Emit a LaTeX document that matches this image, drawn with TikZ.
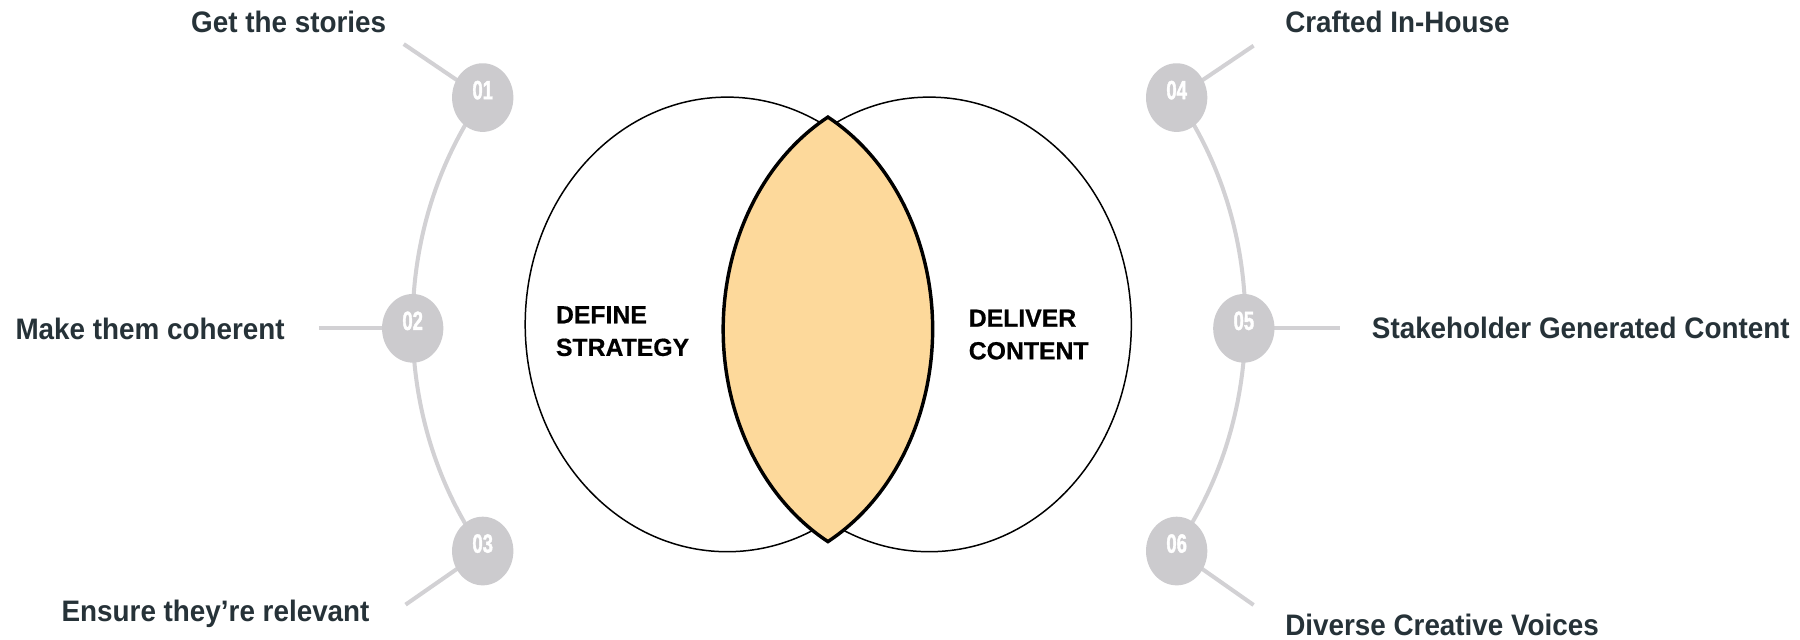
\documentclass[tikz,border=0pt]{standalone}
\usepackage{fontspec}
\setmainfont{Liberation Sans}
\newfontfamily\labfont[FakeStretch=0.94]{Liberation Sans}
\newfontfamily\numfont[FakeStretch=0.7,FakeBold=1.5]{Liberation Sans}
\newfontfamily\vennfont[FakeBold=0.6]{Liberation Sans}
\usetikzlibrary{shapes.geometric}
\definecolor{ink}{HTML}{263238}
\definecolor{spoke}{HTML}{D2D1D4}
\definecolor{dot}{HTML}{CCCBCE}
\definecolor{lensfill}{HTML}{FDD99B}
\begin{document}
\begin{tikzpicture}[x=1pt,y=-1pt,
  lab/.style={font=\labfont\bfseries\fontsize{25.8}{30}\selectfont, text=ink, inner sep=0pt},
  venntxt/.style={font=\vennfont\bfseries\fontsize{21.6}{28.4}\selectfont, text=black, align=left, inner sep=0pt, anchor=west},
  dotnode/.style={ellipse, fill=dot, minimum width=53.4pt, minimum height=59.8pt, inner sep=0pt},
  numtxt/.style={font=\numfont\bfseries\fontsize{23}{24}\selectfont, text=white, inner sep=0pt},
  spokeline/.style={draw=spoke, line width=3.5pt},
  vennell/.style={ellipse, draw=black, line width=1.3pt, fill=white, minimum width=352pt, minimum height=396pt, inner sep=0pt},
]
\useasboundingbox (0,0) rectangle (1568,557);
\fill[white] (0,0) rectangle (1568,557);

% circle centres and spoke ends
\coordinate (c01) at (420.5,85);
\coordinate (c02) at (359.5,286);
\coordinate (c03) at (420.5,480);
\coordinate (c04) at (1025,85);
\coordinate (c05) at (1083.5,286);
\coordinate (c06) at (1025,480);
\coordinate (s01) at (351.7,38.4);
\coordinate (s02) at (277.7,286);
\coordinate (s03) at (353.3,526.7);
\coordinate (s04) at (1092,39.8);
\coordinate (s05) at (1167.1,286);
\coordinate (s06) at (1092,527);

% arcs
\draw[spokeline] (c01) arc[start angle=218.2, end angle=141.8, x radius=285.2, y radius=319.4];
\draw[spokeline] (c04) arc[start angle=-37.8, end angle=37.8, x radius=285.2, y radius=319.4];

% spokes
\draw[spokeline] (s01) -- (c01);
\draw[spokeline] (s02) -- (c02);
\draw[spokeline] (s03) -- (c03);
\draw[spokeline] (s04) -- (c04);
\draw[spokeline] (s05) -- (c05);
\draw[spokeline] (s06) -- (c06);

% dots
\node[dotnode] (d01) at (c01) {};
\node[dotnode] (d02) at (c02) {};
\node[dotnode] (d03) at (c03) {};
\node[dotnode] (d04) at (c04) {};
\node[dotnode] (d05) at (c05) {};
\node[dotnode] (d06) at (c06) {};
\node[numtxt] (n01) at (420.5,78.5) {01};
\node[numtxt] (n02) at (359.5,279.5) {02};
\node[numtxt] (n03) at (420.5,473.5) {03};
\node[numtxt] (n04) at (1025,78.5) {04};
\node[numtxt] (n05) at (1083.5,279.5) {05};
\node[numtxt] (n06) at (1025,473.5) {06};

% labels
\node[lab, anchor=base] (t01) at (251.5,28.5) {Get the stories};
\node[lab, anchor=base] (t02) at (130.8,295.4) {Make them coherent};
\node[lab, anchor=base] (t03) at (187.8,541) {Ensure they’re relevant};
\node[lab, anchor=base west] (t04) at (1119.4,28.4) {Crafted In-House};
\node[lab, anchor=base west] (t05) at (1194.9,294.7) {Stakeholder Generated Content};
\node[lab, anchor=base west] (t06) at (1119.4,553.8) {Diverse Creative Voices};

% venn
\node[vennell] (defE) at (633.5,282.6) {};
\node[vennell] (delE) at (809.5,282.6) {};
\coordinate (lensTop) at (721.2,102);
\filldraw[fill=lensfill, draw=black, line width=3pt]
  (lensTop) arc[start angle=241.2, end angle=118.8, x radius=176, y radius=211]
  arc[start angle=61.2, end angle=-61.2, x radius=176, y radius=211] -- cycle;

\node[venntxt] (defT) at (484.1,288.5) {DEFINE\\STRATEGY};
\node[venntxt] (delT) at (843.7,291.5) {DELIVER\\CONTENT};
\end{tikzpicture}
\end{document}
